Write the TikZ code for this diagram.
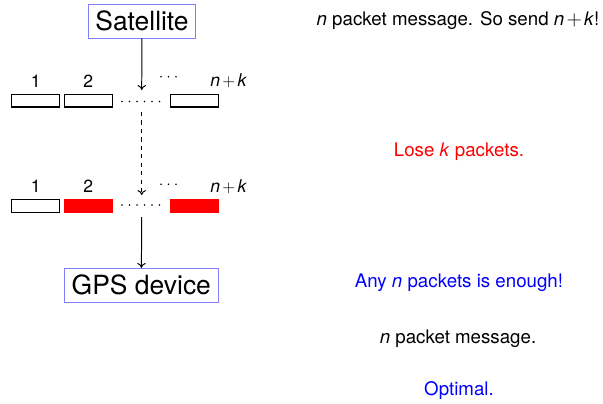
\documentclass[tikz,border=0pt]{standalone}
\usepackage{fontspec}
\setmainfont{TeX Gyre Heros}
\usetikzlibrary{arrows.meta}
\newcommand{\vn}{\textit{n}}
\newcommand{\vk}{\textit{k}}
\newcommand{\nk}{\textit{n}\kern1.6pt$+$\kern1.6pt\textit{k}}
\begin{document}
\begin{tikzpicture}[x=0.025cm, y=-0.025cm,
    >={To[length=3.5pt, width=6pt]},
    station/.style={draw=blue!50, inner sep=5pt, font=\fontsize{18.8}{22}\selectfont},
    packet/.style={draw, line width=0.8pt, inner sep=0pt, minimum width=1.2cm, minimum height=0.31cm},
    lost/.style={packet, draw=red, fill=red},
    plabel/.style={font=\fontsize{12.5}{15}\selectfont},
    note/.style={font=\fontsize{13.3}{16}\selectfont},
    flow/.style={->, line width=0.7pt}]
\useasboundingbox (0,0) rectangle (603,403);
% stations
\node[station] (sat) at (142,21) {Satellite};
\node[station] (gps) at (141.3,285.3) {GPS device};
% sent packets
\begin{scope}
    \node[packet] (s1) at (35.5,100.8) {};
    \node[packet] (s2) at (88.2,100.8) {};
    \node[packet] (s3) at (194.5,100.8) {};
    \node[plabel] (s1l) at (35.7,81) {1};
    \node[plabel] (s2l) at (88.3,81) {2};
    \node[plabel] (s3l) at (228.7,81) {\nk};
\end{scope}
% received packets
\begin{scope}
    \node[packet] (r1) at (35.5,206) {};
    \node[lost] (r2) at (88.2,206) {};
    \node[lost] (r3) at (194.5,206) {};
    \node[plabel] (r1l) at (35.7,186.5) {1};
    \node[plabel] (r2l) at (88.3,186.5) {2};
    \node[plabel] (r3l) at (228.7,186.5) {\nk};
\end{scope}
% dots
\foreach \y/\z in {101.5/76.7, 205/184.3} {
    \foreach \x in {122,129.5,...,160}
        \fill (\x,\y) circle (0.85);
    \foreach \x in {161,168.5,...,177}
        \fill (\x,\z) circle (0.85);
}
% arrows
\coordinate (a1) at (141.7,90);
\coordinate (b0) at (141.7,112);
\coordinate (b1) at (141.7,195);
\coordinate (c0) at (141.7,217);
\draw[flow] (sat) -- (a1);
\draw[flow, dashed] (b0) -- (b1);
\draw[flow] (c0) -- (gps);
% notes
\node[note] (t1) at (458,21) {\vn{} packet message. So send \nk!};
\node[note, text=red] (t2) at (459,152) {Lose \vk{} packets.};
\node[note, text=blue] (t3) at (459,283) {Any \vn{} packets is enough!};
\node[note] (t4) at (458,339) {\vn{} packet message.};
\node[note, text=blue] (t5) at (459,391) {Optimal.};
\end{tikzpicture}
\end{document}
